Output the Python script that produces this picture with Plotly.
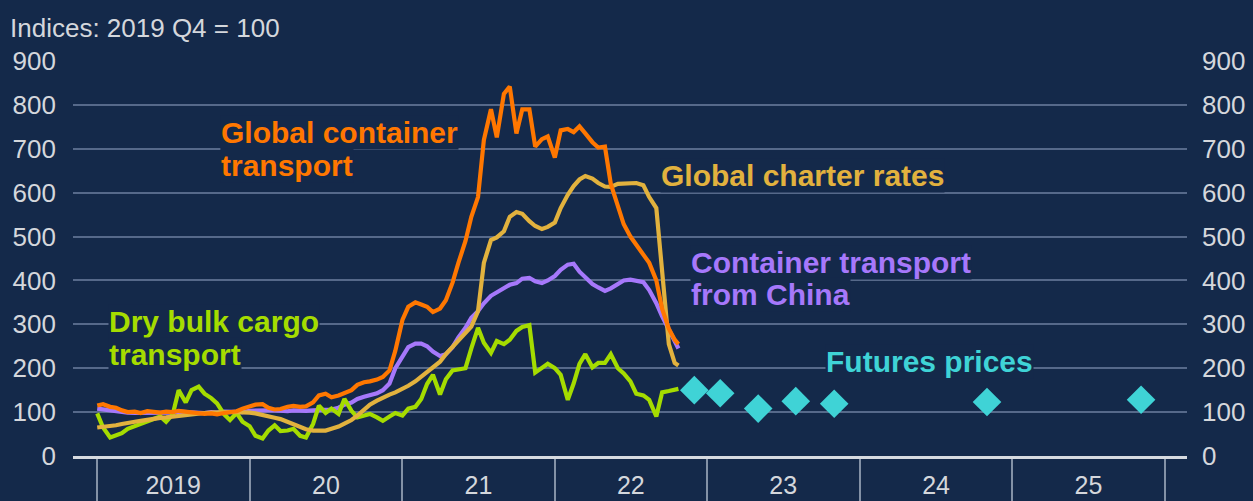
import plotly.graph_objects as go
import pandas as pd

# ---------------- data ----------------
dates = list(pd.date_range("2019-01-01", "2022-10-15", freq="SMS").strftime("%Y-%m-%d")) + ["2022-10-24"]

container_global = [115, 118, 112, 110, 104, 100, 101, 98, 102, 100,
                    99, 101, 100, 103, 101, 100, 98, 96, 97, 95,
                    98, 100, 102, 108, 114, 117, 118, 110, 106, 107,
                    112, 114, 112, 113, 122, 138, 142, 134, 138, 144,
                    150, 162, 168, 170, 174, 180, 195, 240, 310, 340,
                    350, 345, 340, 328, 336, 355, 395, 440, 490, 545,
                    590, 720, 790, 726, 825, 842, 735, 790, 790, 705,
                    722, 728, 680, 742, 745, 738, 751, 735, 715, 703,
                    705, 620, 565, 528, 500, 480, 460, 440, 400, 335,
                    290, 265, 255]

container_china = [108, 106, 104, 101, 100, 99, 98, 98, 99, 98,
                   99, 100, 99, 101, 100, 100, 99, 98, 100, 99,
                   101, 100, 100, 100, 103, 104, 103, 104, 104, 103,
                   102, 104, 103, 103, 104, 104, 105, 106, 110, 117,
                   122, 130, 135, 139, 143, 150, 165, 200, 225, 248,
                   256, 256, 250, 238, 228, 232, 248, 270, 292, 315,
                   330, 348, 365, 372, 382, 390, 394, 404, 406, 398,
                   394, 400, 410, 424, 436, 438, 420, 408, 392, 384,
                   376, 382, 392, 400, 402, 400, 396, 378, 348, 318,
                   290, 262, 245]

charter_rates = [65, 66, 68, 70, 73, 76, 78, 80, 83, 85,
                 87, 88, 90, 92, 93, 95, 97, 98, 99, 100,
                 100, 100, 100, 100, 99, 97, 94, 90, 87, 84,
                 78, 71, 65, 61, 58, 57, 58, 62, 67, 74,
                 82, 92, 104, 117, 126, 133, 140, 145, 152, 160,
                 170, 180, 190, 202, 215, 232, 248, 262, 278, 295,
                 330, 440, 492, 498, 512, 545, 556, 552, 535, 524,
                 517, 522, 532, 565, 595, 615, 630, 638, 632, 622,
                 614, 613, 620, 621, 621, 622, 617, 590, 565, 430,
                 255, 212, 206]

dry_bulk = [97, 65, 42, 46, 52, 62, 68, 74, 79, 84,
            90, 78, 95, 150, 122, 150, 158, 142, 132, 120,
            95, 82, 98, 78, 68, 46, 40, 58, 70, 57,
            58, 62, 46, 42, 73, 115, 98, 108, 96, 130,
            103, 88, 92, 96, 88, 80, 90, 98, 92, 108,
            112, 130, 164, 185, 140, 175, 195, 198, 200, 245,
            292, 258, 235, 262, 255, 265, 285, 294, 298, 190,
            200, 210, 200, 185, 128, 165, 210, 232, 202, 212,
            212, 232, 200, 188, 170, 142, 138, 128, 90, 145,
            148, 152, 153]

futures_dates = ["2022-12-01", "2023-02-01", "2023-05-03", "2023-08-01",
                 "2023-11-01", "2024-11-01", "2025-11-05"]
futures_values = [150, 143, 108, 125, 119, 123, 128]

year_starts = ["2019-01-01", "2020-01-01", "2021-01-01", "2022-01-01",
               "2023-01-01", "2024-01-01", "2025-01-01", "2026-01-01"]
year_mids = ["2019-07-02", "2020-07-02", "2021-07-02", "2022-07-02",
             "2023-07-02", "2024-07-02", "2025-07-02"]
year_labels = ["2019", "20", "21", "22", "23", "24", "25"]
y_ticks = [0, 100, 200, 300, 400, 500, 600, 700, 800, 900]

assert len(dates) == len(container_global) == len(container_china) == len(charter_rates) == len(dry_bulk)

# ---------------- style ----------------
BG = "#14294a"
GRID = "#56698a"
TXT = "#d4d7dc"
AXIS = "#d6dae0"
ORANGE = "#ff7700"
GOLD = "#e2b23e"
PURPLE = "#a678fb"
GREEN = "#a5dc00"
CYAN = "#3fd3d6"
FONT = "Liberation Sans, Arial, sans-serif"
LW = 4.2

fig = go.Figure()
fig.add_trace(go.Scatter(x=dates, y=container_china, mode="lines",
                         line=dict(color=PURPLE, width=LW), name="Container transport from China"))
fig.add_trace(go.Scatter(x=dates, y=dry_bulk, mode="lines",
                         line=dict(color=GREEN, width=LW), name="Dry bulk cargo transport"))
fig.add_trace(go.Scatter(x=dates, y=charter_rates, mode="lines",
                         line=dict(color=GOLD, width=LW), name="Global charter rates"))
fig.add_trace(go.Scatter(x=dates, y=container_global, mode="lines",
                         line=dict(color=ORANGE, width=LW), name="Global container transport"))
fig.add_trace(go.Scatter(x=futures_dates, y=futures_values, mode="markers", yaxis="y2",
                         marker=dict(symbol="diamond", size=22, color=CYAN), name="Futures prices"))

labels = [
    ("Global container", "2019-10-22", 738, ORANGE),
    ("transport", "2019-10-22", 663, ORANGE),
    ("Global charter rates", "2022-09-10", 640, GOLD),
    ("Container transport", "2022-11-20", 442, PURPLE),
    ("from China", "2022-11-20", 367, PURPLE),
    ("Dry bulk cargo", "2019-01-27", 307, GREEN),
    ("transport", "2019-01-27", 232, GREEN),
    ("Futures prices", "2023-10-10", 216, CYAN),
]
for text, x, y, col in labels:
    fig.add_annotation(x=x, y=y, xref="x", yref="y", text=f"<b>{text}</b>", showarrow=False,
                       xanchor="left", yanchor="middle", bgcolor=BG, borderpad=0,
                       font=dict(family=FONT, size=30, color=col))

fig.update_layout(
    width=1253, height=501,
    margin=dict(l=73, r=66, t=61, b=45, autoexpand=False),
    paper_bgcolor=BG, plot_bgcolor=BG,
    showlegend=False,
    font=dict(family=FONT, size=26, color=TXT),
    title=dict(text="Indices: 2019 Q4 = 100", x=10 / 1253, xanchor="left", xref="container",
               y=1 - 28 / 501, yref="container",
               yanchor="middle", pad=dict(l=0, r=0, t=0, b=0),
               font=dict(family=FONT, size=26, color=TXT)),
    xaxis=dict(type="date", range=["2018-11-04", "2026-02-23"], automargin=False,
               tickmode="array", tickvals=year_mids, ticktext=year_labels,
               ticks="", showgrid=False, zeroline=False,
               showline=True, linecolor=AXIS, linewidth=3,
               ticklabelstandoff=5, tickfont=dict(size=25),
               minor=dict(tickmode="array", tickvals=year_starts, ticks="outside",
                          ticklen=45, tickwidth=1.5, tickcolor="#8391a6", showgrid=False)),
    yaxis=dict(range=[0, 900], tickmode="array", tickvals=y_ticks, ticks="", automargin=False,
               showgrid=True, gridcolor=GRID, gridwidth=2, zeroline=False,
               ticklabelstandoff=16),
    yaxis2=dict(range=[0, 900], overlaying="y", side="right", tickmode="array", automargin=False,
                tickvals=y_ticks, ticks="", showgrid=False, zeroline=False,
                ticklabelstandoff=14),
)

fig.write_html(
    "out.html",
    config={"displayModeBar": False},
    post_script="document.body.style.margin='0';document.body.style.background='" + BG + "';",
)
